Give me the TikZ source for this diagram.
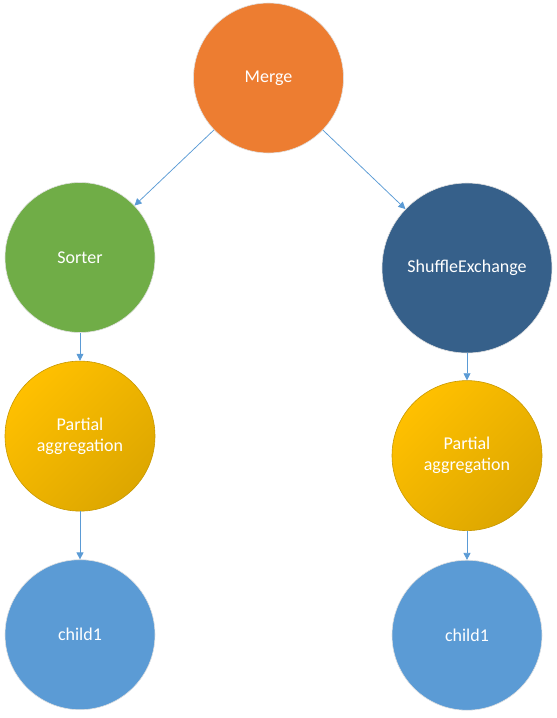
\documentclass[tikz,border=0pt]{standalone}
\usepackage{fontspec}
\setmainfont{Carlito}
\usepackage{tikz}
\usetikzlibrary{arrows.meta, positioning}

\definecolor{mergeorange}{RGB}{237,125,49}
\definecolor{sortgreen}{RGB}{112,173,71}
\definecolor{shuffleblue}{RGB}{54,96,138}
\definecolor{aggtop}{RGB}{255,192,0}
\definecolor{aggbottom}{RGB}{221,167,0}
\definecolor{aggedge}{RGB}{200,152,0}
\definecolor{childblue}{RGB}{91,155,213}
\definecolor{linkblue}{RGB}{91,155,213}

\begin{document}
\begin{tikzpicture}[x=1pt, y=-1pt,
    op/.style={circle, inner sep=0pt, minimum size=150pt, text=white, align=center,
        font=\fontsize{18}{21}\selectfont, draw=black!12, line width=0.6pt},
    M/.style={op, fill=mergeorange},
    S/.style={op, fill=sortgreen},
    X/.style={op, fill=shuffleblue, minimum size=170pt},
    P/.style={op, top color=aggtop, bottom color=aggbottom, shading angle=45, draw=aggedge},
    C/.style={op, fill=childblue},
    link/.style={-{Triangle[length=7pt,width=7pt]}, draw=linkblue, line width=0.75pt}]
    \useasboundingbox (0,0) rectangle (557,718);

    \node[M] (merge) at (268.5,78) {Merge};
    \node[S] (sorter) at (80,257.5) {Sorter};
    \node[X] (shuffle) at (467,268) {ShuffleExchange};

    \node[P, below=28pt of sorter] (aggL) {Partial\\aggregation};
    \node[C, below=48pt of aggL] (childL) {child1};
    \node[P, below=27pt of shuffle] (aggR) {Partial\\aggregation};
    \node[C, below=29pt of aggR] (childR) {child1};

    \draw[link] (merge) -- (sorter);
    \draw[link] (merge) -- (shuffle);
    \draw[link] (sorter) -- (aggL);
    \draw[link] (aggL) -- (childL);
    \draw[link] (shuffle) -- (aggR);
    \draw[link] (aggR) -- (childR);
\end{tikzpicture}
\end{document}
